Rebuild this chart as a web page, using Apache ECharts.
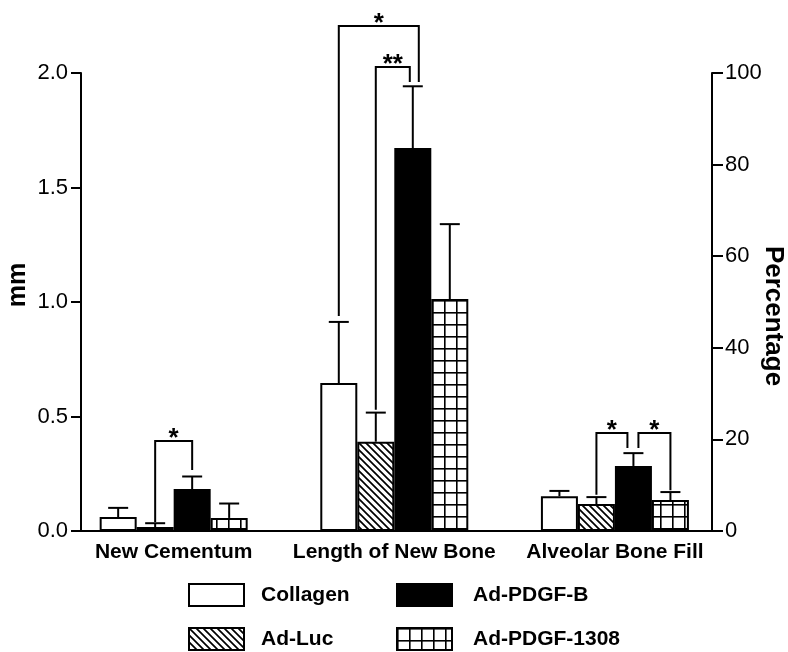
<!DOCTYPE html>
<html>
<head>
<meta charset="utf-8">
<title>Periodontal regeneration</title>
<script src="https://cdn.jsdelivr.net/npm/echarts@6/dist/echarts.min.js"></script>
<style>
html, body { margin: 0; padding: 0; background: #fff; }
#main { width: 788px; height: 652px; }
</style>
</head>
<body>
<div id="main"></div>
<script>
// categories on the x axis
var categories = ['New Cementum', 'Length of New Bone', 'Alveolar Bone Fill'];
var groups = ['Collagen', 'Ad-Luc', 'Ad-PDGF-B', 'Ad-PDGF-1308'];

// mean values: mm for the first two categories, percentage for alveolar bone fill
var collagenMean = [0.061, 0.646, 7.6];
var adLucMean = [0.017, 0.39, 5.9];
var pdgfBMean = [0.183, 1.672, 14.2];
var pdgf1308Mean = [0.057, 1.013, 6.75];

// error (upper bar only)
var collagenErr = [0.04, 0.267, 1.15];
var adLucErr = [0.017, 0.127, 1.5];
var pdgfBErr = [0.055, 0.27, 2.8];
var pdgf1308Err = [0.063, 0.327, 1.75];

// significance brackets: [category, barA, barB, legA bottom, legB bottom, top]
var brackets = [
    [0, 1, 2, 0.039, 0.266, 0.393],
    [1, 0, 2, 0.939, 1.961, 2.205],
    [1, 1, 2, 0.53, 1.961, 2.026],
    [2, 1, 2, 7.9, 18.1, 21.4],
    [2, 2, 3, 18.1, 8.9, 21.4]
];
var bracketMarks = ['*', '*', '**', '*', '*'];

// tick labels
var mmTicks = [0, 0.5, 1.0, 1.5, 2.0];
var pctTicks = [0, 20, 40, 60, 80, 100];

var FONT = '"Liberation Sans", Arial, Helvetica, sans-serif';
var BAR_W = 37;
// small sideways shifts (px) of bracket legs so they don't overlap
var legShift = [[0, 0], [0, 6], [0, -3], [0, -6], [5, 0]];

var means = [collagenMean, adLucMean, pdgfBMean, pdgf1308Mean];
var errs = [collagenErr, adLucErr, pdgfBErr, pdgf1308Err];

// alveolar bone fill is on the percentage axis: 100 % lines up with 2.0 mm
function toMm(v, ci) {
    return ci === 2 ? v * mmTicks[mmTicks.length - 1] / pctTicks[pctTicks.length - 1] : v;
}

function diagTile() {
    var s = 7;
    var c = document.createElement('canvas');
    c.width = s; c.height = s;
    var g = c.getContext('2d');
    g.fillStyle = '#fff';
    g.fillRect(0, 0, s, s);
    g.strokeStyle = '#000';
    g.lineWidth = 1.7;
    g.beginPath();
    g.moveTo(-1, -1); g.lineTo(s + 1, s + 1);
    g.moveTo(-1, s - 1); g.lineTo(1, s + 1);
    g.moveTo(s - 1, -1); g.lineTo(s + 1, 1);
    g.stroke();
    return c;
}

function gridTile() {
    var s = 12;
    var c = document.createElement('canvas');
    c.width = s; c.height = s;
    var g = c.getContext('2d');
    g.fillStyle = '#fff';
    g.fillRect(0, 0, s, s);
    g.fillStyle = '#000';
    g.fillRect(0, 0, 1.6, s);
    g.fillRect(0, 0, s, 1.6);
    return c;
}

var fills = [
    '#ffffff',
    { image: diagTile(), repeat: 'repeat' },
    '#000000',
    { image: gridTile(), repeat: 'repeat' }
];

var myChart = echarts.init(document.getElementById('main'));

var series = [];
groups.forEach(function (name, gi) {
    series.push({
        type: 'bar',
        name: name,
        barWidth: BAR_W,
        barGap: '0%',
        data: means[gi].map(function (v, ci) { return [ci, toMm(v, ci)]; }),
        itemStyle: { color: fills[gi], borderColor: '#000', borderWidth: 2 },
        emphasis: { disabled: true },
        z: 2
    });
});

// error bars
var errData = [];
groups.forEach(function (name, gi) {
    means[gi].forEach(function (v, ci) {
        errData.push([ci, gi, toMm(v, ci), toMm(v + errs[gi][ci], ci)]);
    });
});

series.push({
    type: 'custom',
    data: errData,
    encode: { x: 0, y: 3 },
    silent: true,
    z: 3,
    renderItem: function (params, api) {
        var ci = api.value(0), gi = api.value(1);
        var base = api.coord([ci, api.value(2)]);
        var top = api.coord([ci, api.value(3)]);
        var x = base[0] + (gi - 1.5) * BAR_W;
        return {
            type: 'group',
            children: [
                { type: 'line', shape: { x1: x, y1: base[1], x2: x, y2: top[1] }, style: { stroke: '#000', lineWidth: 2 } },
                { type: 'line', shape: { x1: x - 10, y1: top[1], x2: x + 10, y2: top[1] }, style: { stroke: '#000', lineWidth: 2 } }
            ]
        };
    }
});

// significance brackets
series.push({
    type: 'custom',
    data: brackets.map(function (b) {
        return [b[0], b[1], b[2], toMm(b[3], b[0]), toMm(b[4], b[0]), toMm(b[5], b[0])];
    }),
    encode: { x: 0, y: 5 },
    silent: true,
    clip: false,
    z: 4,
    renderItem: function (params, api) {
        var i = params.dataIndex;
        var ci = api.value(0);
        var cx = api.coord([ci, 0])[0];
        var xa = cx + (api.value(1) - 1.5) * BAR_W + legShift[i][0];
        var xb = cx + (api.value(2) - 1.5) * BAR_W + legShift[i][1];
        var ya = api.coord([ci, api.value(3)])[1];
        var yb = api.coord([ci, api.value(4)])[1];
        var yt = api.coord([ci, api.value(5)])[1];
        return {
            type: 'group',
            children: [
                {
                    type: 'polyline',
                    shape: { points: [[xa, ya], [xa, yt], [xb, yt], [xb, yb]] },
                    style: { stroke: '#000', fill: null, lineWidth: 2 }
                },
                {
                    type: 'text',
                    x: (xa + xb) / 2,
                    y: yt - 2,
                    style: {
                        text: bracketMarks[i],
                        fill: '#000',
                        font: 'bold 26px ' + FONT,
                        align: 'center',
                        verticalAlign: 'middle'
                    }
                }
            ]
        };
    }
});

// one legend per entry so the 2x2 layout is exact
var legendSpots = [[188, 583, 12], [188, 627, 12], [396, 583, 16], [396, 627, 16]];
var legends = groups.map(function (name, gi) {
    return {
        left: legendSpots[gi][0], top: legendSpots[gi][1], padding: 0,
        itemWidth: 55, itemHeight: 22, icon: 'rect',
        selectedMode: false,
        data: [name],
        textStyle: {
            fontFamily: FONT, fontSize: 21, fontWeight: 'bold', color: '#000',
            padding: [0, 0, 0, legendSpots[gi][2]]
        }
    };
});

myChart.setOption({
    animation: false,
    backgroundColor: '#fff',
    grid: { left: 81, right: 76, top: 73, bottom: 121, containLabel: false, outerBoundsMode: 'none' },
    legend: legends,
    xAxis: {
        type: 'value',
        min: -0.42,
        max: 2.44,
        splitLine: { show: false },
        axisTick: { show: false },
        axisLine: { show: true, onZero: false, lineStyle: { color: '#000', width: 2 } },
        axisLabel: {
            customValues: [0, 1, 2],
            formatter: function (v) { return categories[Math.round(v)] || ''; },
            color: '#000', fontFamily: FONT, fontSize: 21, fontWeight: 'bold', margin: 11
        }
    },
    yAxis: [
        {
            type: 'value', position: 'left',
            min: mmTicks[0], max: mmTicks[mmTicks.length - 1], interval: 0.5,
            splitLine: { show: false },
            axisLine: { show: true, onZero: false, lineStyle: { color: '#000', width: 2 } },
            axisTick: { show: true, length: 10, lineStyle: { color: '#000', width: 2 } },
            axisLabel: {
                formatter: function (v) { return v.toFixed(1); },
                color: '#000', fontFamily: FONT, fontSize: 22, margin: 13
            },
            name: 'mm', nameLocation: 'middle', nameRotate: 90, nameGap: 50,
            nameMoveOverlap: false,
            nameTextStyle: { color: '#000', fontFamily: FONT, fontSize: 25, fontWeight: 'bold', padding: [0, 0, 0, 34] }
        },
        {
            type: 'value', position: 'right',
            min: pctTicks[0], max: pctTicks[pctTicks.length - 1], interval: 20,
            splitLine: { show: false },
            axisLine: { show: true, onZero: false, lineStyle: { color: '#000', width: 2 } },
            axisTick: { show: true, length: 11, lineStyle: { color: '#000', width: 2 } },
            axisLabel: { color: '#000', fontFamily: FONT, fontSize: 22, margin: 13 },
            name: 'Percentage', nameLocation: 'middle', nameRotate: -90, nameGap: 48,
            nameMoveOverlap: false,
            nameTextStyle: { color: '#000', fontFamily: FONT, fontSize: 26, fontWeight: 'bold', padding: [0, 0, 0, 28] }
        }
    ],
    series: series
});
</script>
</body>
</html>
